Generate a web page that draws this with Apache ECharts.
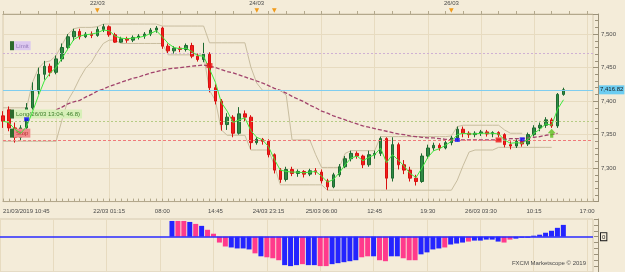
<!DOCTYPE html>
<html>
<head>
<meta charset="utf-8">
<script src="https://cdn.jsdelivr.net/npm/echarts@6/dist/echarts.min.js"></script>
<style>
  html, body { margin: 0; padding: 0; background: #f4ecd9; }
  #chart { width: 625px; height: 272px; }
</style>
</head>
<body>
<div id="chart"></div>
<script>
// one bar = 45 min, a time label every 9 bars (the 2nd one is hidden in the original)
const tickLabels = ['21/03/2019 10:45', '', '22/03 01:15', '08:00', '14:45', '24/03 23:15',
  '25/03 06:00', '12:45', '19:30', '26/03 03:30', '10:15', '17:00'];
const topDateIdx = [16, 43, 46, 76];
const topDateText = ['22/03', '24/03', '', '26/03'];

// [open, close, low, high]
const ohlc = [
  [7378, 7370, 7360, 7385], [7387, 7360, 7355, 7392], [7360, 7346, 7338, 7368], [7346, 7360, 7342, 7364],
  [7360, 7390, 7358, 7397], [7390, 7415, 7385, 7428], [7415, 7440, 7410, 7450], [7440, 7452, 7432, 7460],
  [7452, 7443, 7437, 7456], [7443, 7463, 7440, 7468], [7463, 7480, 7459, 7486], [7480, 7496, 7476, 7500],
  [7496, 7504, 7490, 7508], [7504, 7496, 7492, 7508], [7496, 7500, 7494, 7503], [7500, 7498, 7494, 7504],
  [7498, 7507, 7496, 7511], [7507, 7511, 7503, 7515], [7511, 7499, 7496, 7513], [7499, 7488, 7487, 7502],
  [7488, 7493, 7487, 7496], [7493, 7491, 7487, 7496], [7491, 7495, 7488, 7498], [7495, 7497, 7492, 7500],
  [7497, 7500, 7493, 7503], [7500, 7506, 7497, 7509], [7506, 7509, 7502, 7512], [7509, 7482, 7478, 7511],
  [7482, 7475, 7471, 7486], [7475, 7479, 7471, 7482], [7479, 7477, 7473, 7482], [7477, 7483, 7474, 7486],
  [7483, 7467, 7464, 7487], [7467, 7462, 7459, 7471], [7462, 7470, 7458, 7487], [7470, 7420, 7413, 7473],
  [7420, 7400, 7395, 7425], [7400, 7365, 7356, 7403], [7365, 7376, 7357, 7382], [7376, 7352, 7346, 7379],
  [7352, 7381, 7350, 7391], [7381, 7376, 7370, 7386], [7376, 7338, 7328, 7379], [7338, 7343, 7335, 7346],
  [7343, 7340, 7335, 7345], [7340, 7320, 7316, 7343], [7320, 7297, 7292, 7322], [7297, 7283, 7278, 7300],
  [7283, 7298, 7280, 7302], [7298, 7292, 7288, 7302], [7292, 7295, 7287, 7298], [7295, 7291, 7286, 7297],
  [7291, 7296, 7288, 7299], [7296, 7294, 7290, 7300], [7294, 7281, 7277, 7298], [7281, 7272, 7267, 7284],
  [7272, 7290, 7270, 7293], [7290, 7302, 7287, 7306], [7302, 7314, 7300, 7318], [7314, 7322, 7310, 7326],
  [7322, 7318, 7314, 7325], [7318, 7305, 7300, 7320], [7305, 7320, 7302, 7326], [7320, 7322, 7314, 7326],
  [7322, 7344, 7318, 7347], [7344, 7285, 7268, 7346], [7285, 7335, 7280, 7346], [7335, 7305, 7298, 7338],
  [7305, 7297, 7291, 7312], [7297, 7285, 7280, 7302], [7285, 7280, 7274, 7290], [7280, 7318, 7278, 7322],
  [7318, 7330, 7314, 7335], [7330, 7334, 7326, 7338], [7334, 7330, 7326, 7337], [7330, 7338, 7328, 7342],
  [7338, 7345, 7334, 7348], [7345, 7358, 7340, 7362], [7358, 7352, 7346, 7362], [7352, 7350, 7345, 7355],
  [7350, 7352, 7346, 7355], [7352, 7354, 7348, 7357], [7354, 7351, 7347, 7357], [7351, 7353, 7346, 7355],
  [7353, 7350, 7346, 7355], [7350, 7335, 7331, 7352], [7335, 7333, 7328, 7340], [7333, 7340, 7330, 7343],
  [7340, 7336, 7332, 7345], [7336, 7350, 7333, 7353], [7350, 7360, 7347, 7364], [7360, 7364, 7355, 7368],
  [7364, 7372, 7360, 7376], [7372, 7363, 7360, 7375], [7363, 7410, 7360, 7412], [7410, 7417, 7408, 7420]
];

const fastLine = [
  7370, 7368, 7358, 7352, 7362, 7384, 7408, 7430, 7442, 7450,
  7464, 7478, 7492, 7497, 7499, 7500, 7502, 7506, 7505, 7497,
  7494, 7493, 7494, 7495, 7497, 7501, 7505, 7496, 7486, 7480,
  7478, 7479, 7474, 7468, 7467, 7448, 7428, 7398, 7385, 7368,
  7372, 7375, 7356, 7346, 7342, 7332, 7313, 7297, 7295, 7294,
  7294, 7293, 7294, 7295, 7288, 7279, 7283, 7293, 7305, 7315,
  7318, 7311, 7316, 7320, 7330, 7308, 7320, 7312, 7303, 7292,
  7286, 7300, 7316, 7326, 7329, 7334, 7340, 7350, 7352, 7351,
  7351, 7352, 7352, 7352, 7351, 7342, 7337, 7338, 7337, 7343,
  7352, 7358, 7366, 7364, 7388, 7402
];

const slowLine = [
  null, null, null, null, null, null, null, null, null,
  7387, 7391, 7396, 7399, 7401, 7406, 7410, 7415, 7418, 7422, 7425, 7428, 7431, 7434, 7436, 7439,
  7442, 7444, 7446, 7448, 7449, 7450, 7451, 7452, 7453, 7454,
  7452, 7450, 7447, 7444, 7442, 7439, 7436, 7433, 7430, 7427, 7423, 7419, 7416, 7412, 7407, 7403,
  7399, 7394, 7390, 7385, 7382, 7378, 7375, 7372, 7369, 7366, 7363, 7361, 7359, 7357, 7355, 7353,
  7351, 7350, 7348, 7347, 7346, 7345, 7345, 7344, 7343, 7342, 7342, 7342, 7342, 7342, 7342, 7342,
  7342, 7342, 7343, 7344, 7344, 7344, 7345, 7346, 7347, 7349, 7350, 7352
];

const upperBand = [
  7390, 7390, 7390, 7390, 7390, 7428, 7449, 7458, 7460, 7468, 7484, 7500, 7508, 7510, 7510, 7510, 7511,
  7515, 7515, 7515, 7515, 7515, 7515, 7515, 7515, 7515, 7515,
  7512, 7512, 7512, 7512, 7512, 7512, 7512, 7512,
  7487, 7487, 7487, 7487, 7487, 7487, 7487, 7451, 7427, 7416, 7416, 7416, 7416, 7409,
  7342, 7342, 7342, 7342, 7320, 7301, 7301, 7301, 7301, 7322, 7326, 7326, 7326, 7326, 7326,
  7347, 7347, 7347, 7347, 7347, 7347, 7347, 7347, 7347, 7347, 7347, 7347, 7348, 7362,
  7364, 7364, 7364, 7364, 7364, 7364, 7364, 7357, 7352, 7352, 7352
];

const lowerBand = [
  7340, 7340, 7340, 7340, 7340, 7340, 7340, 7340, 7340, 7340,
  7372, 7401, 7416, 7434, 7449, 7458, 7473, 7486, 7491, 7491,
  7486, 7486, 7486, 7486, 7486, 7486, 7486, 7486,
  7469, 7469, 7469, 7469, 7469, 7469, 7469, 7416, 7401, 7357, 7349, 7349, 7349, 7349,
  7327, 7327, 7327, 7327, 7304, 7275, 7275, 7275, 7275, 7275, 7275, 7275, 7275,
  7267, 7267, 7267, 7267, 7267, 7267, 7267, 7267, 7267, 7267, 7267, 7267, 7267, 7267, 7267,
  7267, 7267, 7267, 7267, 7267, 7267, 7267, 7282, 7304, 7324, 7327, 7327, 7327, 7327,
  7331, 7331, 7331, 7331, 7331, 7331, 7331, 7331, 7331, 7331
];

// order levels
const lastPrice = 7416.82;
const limitLevel = 7471.5;
const entryLevel = 7369.5;
const stopLevel = 7341;

// trade markers [bar, price]
const entryMarks = [[4, 7373], [77, 7342], [88, 7343]];
const exitMarks = [[35, 7453], [84, 7342]];
const arrowMarks = [[93, 7352]];

// lower indicator, starts at bar 29; b = blue, p = pink
const histStart = 29;
const histVals = [
  16, 16, 16, 15, 13, 11, 7, 3, -6, -10,
  -11, -12, -12, -13, -17, -20, -21, -22, -24, -29,
  -30, -29, -28, -29, -29, -30, -30, -28, -27, -26,
  -25, -24, -21, -20, -20, -24, -25, -20, -20, -22,
  -24, -24, -18, -16, -13, -12, -11, -8, -7, -6,
  -5, -4, -4, -3, -3, -5, -6, -3, -2, -1,
  -1, 1, 2, 4, 6, 9, 12
];
const histColors = 'bppbpbpppp' + 'bbbbpbpppb' + 'bbpbbppbbb' + 'bbppbppbbp' +
  'ppbbbbpbbb' + 'pbbbbbppbb' + 'bbbbbbb';

const BG = '#f4ecd9';
const GRID_LINE = '#e7dbc0';
const AXIS = '#b3a88c';
const TEXT = '#4a4a4a';
const FONT = 'Liberation Sans';

const cats = Array.from({ length: 101 }, (_, i) => String(i));

function fmtPrice(v, dec) {
  const s = v.toFixed(dec || 0);
  const [ip, fp] = s.split('.');
  return ip.slice(0, -3) + ',' + ip.slice(-3) + (fp ? '.' + fp : '');
}

function levelLabel(text, bg, fg) {
  return {
    show: true,
    position: 'insideStartTop',
    distance: [7, 3],
    formatter: '{sq|}{t|' + text + '}',
    rich: {
      sq: { width: 4, height: 9, backgroundColor: '#2d6a2d' },
      t: { backgroundColor: bg, color: fg, fontSize: 6, fontFamily: FONT, padding: [2, 2, 1, 2], height: 6 }
    }
  };
}

const chart = echarts.init(document.getElementById('chart'), null, { renderer: 'canvas' });

const histData = cats.map((_, i) => {
  const k = i - histStart;
  if (k < 0 || k >= histVals.length) return '-';
  return { value: histVals[k], itemStyle: { color: histColors[k] === 'b' ? '#2424ff' : '#ff3a8c' } };
});

chart.setOption({
  backgroundColor: BG,
  animation: false,
  textStyle: { fontFamily: FONT },
  title: {
    text: 'FXCM Marketscope \u00a9 2019',
    right: 34, bottom: 1,
    textStyle: { fontSize: 6, color: TEXT, fontWeight: 'normal', fontFamily: FONT }
  },
  grid: [
    { left: -1, right: 32, top: 14, height: 187.6, show: true, borderColor: '#d6cab0', borderWidth: 1 },
    { left: -1, right: 32, top: 219, height: 54, show: true, borderColor: '#d6cab0', borderWidth: 1 }
  ],
  xAxis: [
    {
      type: 'category', gridIndex: 0, data: cats, boundaryGap: false,
      axisLine: { lineStyle: { color: AXIS } },
      axisTick: { show: true, inside: true, interval: 0, length: 3, lineStyle: { color: AXIS } },
      axisLabel: {
        interval: 8, margin: 7, fontSize: 6, color: TEXT, alignMinLabel: 'left',
        formatter: (v, i) => tickLabels[i / 9] || ''
      },
      splitLine: { show: true, interval: 8, lineStyle: { color: GRID_LINE } }
    },
    {
      type: 'category', gridIndex: 0, position: 'top', data: cats, boundaryGap: false,
      axisLine: { lineStyle: { color: AXIS } },
      axisTick: { show: true, interval: 2, length: 3, lineStyle: { color: AXIS } },
      axisLabel: {
        interval: (i) => topDateIdx.includes(i), margin: 1,
        formatter: (v, i) => {
          const k = topDateIdx.indexOf(i);
          if (k < 0) return '';
          return (topDateText[k] ? '{d|' + topDateText[k] + '}\n' : '') + '{t|\u25bc}';
        },
        rich: {
          d: { fontSize: 6, color: TEXT, fontFamily: FONT, lineHeight: 7 },
          t: { fontSize: 6, color: '#f09a1a', fontFamily: 'DejaVu Sans', lineHeight: 6 }
        }
      },
      splitLine: { show: false }
    },
    {
      type: 'category', gridIndex: 1, data: cats, boundaryGap: false,
      axisLine: { show: false }, axisTick: { show: false }, axisLabel: { show: false },
      splitLine: { show: true, interval: 8, lineStyle: { color: GRID_LINE } }
    }
  ],
  yAxis: [
    {
      type: 'value', gridIndex: 0, position: 'right', offset: 5,
      min: 7250, max: 7530, interval: 50,
      axisLine: { show: true, lineStyle: { color: '#9c927a' } },
      axisTick: { show: true, inside: true, length: 5, lineStyle: { color: '#9c927a' } },
      minorTick: { show: true, splitNumber: 5, length: 3, lineStyle: { color: '#9c927a' } },
      axisLabel: {
        fontSize: 6, color: TEXT, margin: 3,
        formatter: (v) => (v % 50 === 0 && v > 7250) ? fmtPrice(v) : ''
      },
      splitLine: { show: true, lineStyle: { color: GRID_LINE } }
    },
    {
      type: 'value', gridIndex: 1, position: 'right', offset: 5,
      min: -36, max: 18, interval: 6,
      axisLine: { show: true, lineStyle: { color: '#9c927a' } },
      axisTick: { show: true, inside: true, length: 4, lineStyle: { color: '#9c927a' } },
      axisLabel: {
        margin: 3,
        formatter: (v) => v === 0 ? '{z|0}' : '',
        rich: { z: { fontSize: 6, color: '#222', borderColor: '#222', borderWidth: 1, padding: [1, 1, 0, 1], backgroundColor: BG } }
      },
      splitLine: { show: false }
    }
  ],
  series: [
    {
      name: 'upper', type: 'line', xAxisIndex: 0, yAxisIndex: 0, data: upperBand,
      symbol: 'none', lineStyle: { color: '#c8bd9f', width: 1 }, z: 2
    },
    {
      name: 'lower', type: 'line', xAxisIndex: 0, yAxisIndex: 0, data: lowerBand,
      symbol: 'none', lineStyle: { color: '#c8bd9f', width: 1 }, z: 2
    },
    {
      name: 'price', type: 'candlestick', xAxisIndex: 0, yAxisIndex: 0, data: ohlc,
      barWidth: 3, z: 3,
      itemStyle: {
        color: '#2f8a45', color0: '#f41c1c',
        borderColor: '#1e6a30', borderColor0: '#d81010', borderWidth: 1
      },
      markLine: {
        symbol: 'none', silent: true, animation: false,
        data: [
          {
            yAxis: lastPrice,
            lineStyle: { color: '#7fcdef', type: 'solid', width: 1 },
            label: {
              show: true, position: 'end', distance: 6,
              formatter: () => fmtPrice(lastPrice, 2),
              backgroundColor: '#6ccdf2', color: '#1a1a1a', fontSize: 6, fontFamily: FONT, padding: [2, 1, 1, 1]
            }
          },
          { yAxis: limitLevel, lineStyle: { color: '#cfb0d4', type: [2, 2], width: 1 }, label: levelLabel('Limit', '#dcc8ef', '#9378b8') },
          { yAxis: entryLevel, lineStyle: { color: '#b6cc84', type: [2, 2], width: 1 }, label: levelLabel('Long(26/03 13:04, 46.8)', '#d7efb8', '#3c7d2a') },
          { yAxis: stopLevel, lineStyle: { color: '#f07a7a', type: [3, 2], width: 1 }, label: levelLabel('Stop', '#f08c8c', '#b83434') }
        ]
      }
    },
    {
      name: 'slow', type: 'line', xAxisIndex: 0, yAxisIndex: 0, data: slowLine,
      symbol: 'none', lineStyle: { color: '#a2436c', width: 1.3, type: [4, 2] }, z: 4
    },
    {
      name: 'fast', type: 'line', xAxisIndex: 0, yAxisIndex: 0, data: fastLine,
      symbol: 'none', lineStyle: { color: '#3ee83e', width: 1 }, z: 5
    },
    {
      name: 'entry', type: 'scatter', xAxisIndex: 0, yAxisIndex: 0, data: entryMarks,
      symbol: 'rect', symbolSize: [5, 4], itemStyle: { color: '#1414ff' }, z: 6
    },
    {
      name: 'exit', type: 'scatter', xAxisIndex: 0, yAxisIndex: 0, data: exitMarks,
      symbol: 'rect', symbolSize: [6, 5], itemStyle: { color: '#ee1414' }, z: 6
    },
    {
      name: 'signal', type: 'scatter', xAxisIndex: 0, yAxisIndex: 0, data: arrowMarks,
      symbol: 'path://M5,0 L10,5 L7,5 L7,10 L3,10 L3,5 L0,5 Z', symbolSize: [8, 9],
      itemStyle: { color: '#5cbf1e' }, z: 6
    },
    {
      name: 'hist', type: 'bar', xAxisIndex: 2, yAxisIndex: 1, data: histData,
      barWidth: 5, z: 3,
      markLine: {
        symbol: 'none', silent: true, animation: false, label: { show: false },
        data: [{ yAxis: 0 }],
        lineStyle: { color: '#2a2aff', type: 'solid', width: 1.5 }
      }
    }
  ]
});
</script>
</body>
</html>
